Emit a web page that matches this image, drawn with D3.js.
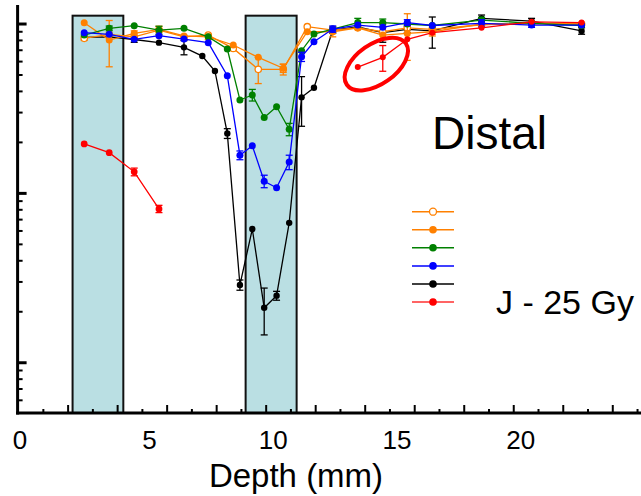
<!DOCTYPE html>
<html>
<head>
<meta charset="utf-8">
<script src="https://cdn.jsdelivr.net/npm/d3@7"></script>
<style>
  body { margin: 0; background: #fff; }
  svg { display: block; font-family: "Liberation Sans", Arial, sans-serif; }
</style>
</head>
<body>
<div id="chart"></div>
<script>
let width = 641;
let height = 496;

// depths (mm)
let depthA = [2.65, 3.66, 4.67, 5.67, 6.68, 7.66, 8.67, 9.68, 10.69, 11.66, 12.69, 13.7, 14.71, 15.7, 16.71, 18.7, 20.72, 22.74];
let depthB = [2.65, 3.66, 4.67, 5.67, 6.68, 7.66, 8.43, 8.94, 9.44, 9.92, 10.42, 10.93, 11.43, 11.93, 12.69, 13.7, 14.71, 15.7, 16.71, 18.7, 20.72, 22.74];
let depthBlack = [2.65, 3.66, 4.67, 5.67, 6.68, 7.42, 7.93, 8.43, 8.94, 9.44, 9.92, 10.42, 10.93, 11.43, 11.93, 12.69, 13.7, 14.71, 15.7, 16.71, 18.7, 20.72, 22.74];
let depthRedA = [2.65, 3.66, 4.67, 5.67];
let depthRedB = [13.7, 14.71, 15.7, 16.71, 18.7, 20.72, 22.74];

// surviving fraction, with error (0 = no bar)
let orangeOpen = [0.823, 0.869, 0.84, 0.92, 0.84, 0.86, 0.718, 0.54, 0.54, 0.964, 0.92, 0.95, 0.9, 0.95, 0.93, 0.99, 1.01, 1.0];
let orangeOpenErr = [0.02, 0, 0, 0, 0, 0, 0, 0.095, 0.04, 0, 0, 0, 0, 0, 0.06, 0, 0, 0];
let orangeFull = [1.018, 0.804, 0.881, 0.93, 0.85, 0.84, 0.752, 0.636, 0.548, 0.9, 0.9, 0.95, 0.86, 0.88, 0.9, 1.0, 1.01, 1.0];
let orangeFullErr = [0, 0.245, 0.03, 0.04, 0, 0.03, 0, 0, 0.03, 0, 0.06, 0, 0, 0.27, 0.05, 0, 0, 0];
let green = [0.86, 0.943, 0.977, 0.92, 0.943, 0.84, 0.712, 0.356, 0.381, 0.281, 0.325, 0.239, 0.696, 0.873, 0.934, 1.02, 1.02, 1.0, 0.98, 1.055, 1.01, 0.98];
let greenErr = [0, 0.03, 0, 0.05, 0, 0, 0, 0, 0.03, 0, 0, 0.02, 0, 0, 0, 0.06, 0.05, 0, 0, 0.04, 0, 0];
let blue = [0.889, 0.869, 0.812, 0.853, 0.815, 0.776, 0.495, 0.168, 0.191, 0.118, 0.108, 0.153, 0.641, 0.786, 0.934, 0.986, 0.956, 1.02, 0.98, 1.01, 0.986, 0.986];
let blueErr = [0, 0, 0, 0, 0, 0, 0, 0.01, 0, 0.01, 0, 0.015, 0.04, 0, 0.04, 0, 0, 0.04, 0, 0.05, 0.03, 0];
let black = [0.835, 0.84, 0.81, 0.776, 0.728, 0.647, 0.528, 0.226, 0.0288, 0.0616, 0.0211, 0.0249, 0.067, 0.369, 0.42, 0.92, 0.96, 0.89, 0.93, 0.91, 1.08, 1.04, 0.91];
let blackErr = [0, 0, 0.03, 0, 0.07, 0, 0, 0.015, 0.002, 0, 0.0065, 0.0015, 0, 0.12, 0, 0.04, 0, 0.11, 0.04, 0.19, 0.05, 0.04, 0.04];
let redA = [0.196, 0.174, 0.134, 0.081];
let redAErr = [0, 0, 0.007, 0.004];
let redB = [0.557, 0.636, 0.812, 0.889, 0.95, 1.03, 1.02];
let redBErr = [0, 0.11, 0, 0, 0, 0, 0];

// irradiated slabs (mm)
let bands = [[2.18, 4.23], [9.17, 11.23]];
let bandTop = 1.12;

let xLabels = [0, 5, 10, 15, 20];

let x = d3.scaleLinear().domain([0, 25.14]).range([18.6, 641]);
let y = d3.scaleLog().domain([0.00505, 1.295]).range([413, 5]);

let svg = d3.select('#chart').append('svg')
    .attr('width', width).attr('height', height);

// shaded bands
svg.append('g').selectAll('rect')
    .data(bands)
    .enter().append('rect')
    .attr('x', d => x(d[0]))
    .attr('y', y(bandTop))
    .attr('width', d => x(d[1]) - x(d[0]))
    .attr('height', y.range()[0] - y(bandTop))
    .attr('fill', '#badfe3')
    .attr('stroke', '#111')
    .attr('stroke-width', 2);

function series(xs, ys, errs, colour, opts) {
    let g = svg.append('g');
    let pts = xs.map((d, i) => ({x: d, y: ys[i], e: errs[i]}));
    g.append('path')
        .datum(pts)
        .attr('d', d3.line().x(d => x(d.x)).y(d => y(d.y)))
        .attr('fill', 'none')
        .attr('stroke', colour)
        .attr('stroke-width', 1.3);
    let eb = g.selectAll('g.err')
        .data(pts.filter(d => d.e > 0))
        .enter().append('g')
        .attr('stroke', colour)
        .attr('stroke-width', 1.3);
    eb.append('line')
        .attr('x1', d => x(d.x)).attr('x2', d => x(d.x))
        .attr('y1', d => y(d.y + d.e)).attr('y2', d => y(Math.max(d.y - d.e, 0.0052)));
    eb.append('line')
        .attr('x1', d => x(d.x) - 3.5).attr('x2', d => x(d.x) + 3.5)
        .attr('y1', d => y(d.y + d.e)).attr('y2', d => y(d.y + d.e));
    eb.append('line')
        .attr('x1', d => x(d.x) - 3.5).attr('x2', d => x(d.x) + 3.5)
        .attr('y1', d => y(Math.max(d.y - d.e, 0.0052))).attr('y2', d => y(Math.max(d.y - d.e, 0.0052)));
    g.selectAll('circle')
        .data(pts)
        .enter().append('circle')
        .attr('cx', d => x(d.x))
        .attr('cy', d => y(d.y))
        .attr('r', opts.r)
        .attr('fill', opts.open ? '#fff' : colour)
        .attr('stroke', colour)
        .attr('stroke-width', opts.open ? 1.3 : 0);
}

series(depthBlack, black, blackErr, '#000', {r: 3.2});
series(depthA, orangeOpen, orangeOpenErr, '#ff8000', {r: 3.2, open: true});
series(depthA, orangeFull, orangeFullErr, '#ff8000', {r: 3.5});
series(depthB, green, greenErr, '#008000', {r: 3.5});
series(depthB, blue, blueErr, '#0000ff', {r: 3.5});
series(depthRedA, redA, redAErr, '#ff0000', {r: 3.4});
series(depthRedB, redB, redBErr, '#ff0000', {r: 3});

// ellipse highlighting the distal red points
let ec = [x(14.45), y(0.58)];
svg.append('ellipse')
    .attr('cx', ec[0]).attr('cy', ec[1])
    .attr('rx', 36).attr('ry', 20)
    .attr('transform', `rotate(-35, ${ec[0]}, ${ec[1]})`)
    .attr('fill', 'none')
    .attr('stroke', '#ff0000')
    .attr('stroke-width', 4);

// axes
let axes = svg.append('g').attr('stroke', '#000');
axes.append('line')
    .attr('x1', x(0) - 1).attr('x2', x(0) - 1)
    .attr('y1', y.range()[1]).attr('y2', y.range()[0] + 1.5)
    .attr('stroke-width', 3);
axes.append('line')
    .attr('x1', x(0) - 2.5).attr('x2', width)
    .attr('y1', y.range()[0]).attr('y2', y.range()[0])
    .attr('stroke-width', 3);

let yTicks = y.ticks();
axes.selectAll('line.yt')
    .data(yTicks)
    .enter().append('line')
    .attr('x1', x(0)).attr('x2', d => x(0) + (Math.abs(Math.log10(d) - Math.round(Math.log10(d))) < 1e-6 ? 8 : 4))
    .attr('y1', d => y(d)).attr('y2', d => y(d))
    .attr('stroke-width', d => Math.abs(Math.log10(d) - Math.round(Math.log10(d))) < 1e-6 ? 3 : 2);

let xTicks = d3.range(1, 26);
axes.selectAll('line.xt')
    .data(xTicks)
    .enter().append('line')
    .attr('x1', d => x(d)).attr('x2', d => x(d))
    .attr('y1', y.range()[0]).attr('y2', d => y.range()[0] - (d % 2 === 0 ? 8 : 4))
    .attr('stroke-width', 2);

svg.append('g').selectAll('text')
    .data(xLabels)
    .enter().append('text')
    .attr('x', d => x(d) + (d === 0 ? 1.5 : 7))
    .attr('y', 449)
    .attr('text-anchor', 'middle')
    .attr('font-size', 26)
    .text(d => d);

svg.append('text')
    .attr('x', 296).attr('y', 487)
    .attr('text-anchor', 'middle')
    .attr('font-size', 33)
    .text('Depth (mm)');

svg.append('text')
    .attr('x', 432).attr('y', 149)
    .attr('font-size', 46)
    .text('Distal');

// legend
let legendItems = [
    {colour: '#ff8000', open: true},
    {colour: '#ff8000'},
    {colour: '#008000'},
    {colour: '#0000ff'},
    {colour: '#000'},
    {colour: '#ff3030'},
];
let leg = svg.append('g').attr('transform', 'translate(412, 211.7)');
legendItems.forEach((d, i) => {
    let row = leg.append('g').attr('transform', `translate(0, ${i * 18.06})`);
    row.append('line').attr('x1', 0).attr('x2', 42)
        .attr('stroke', d.colour).attr('stroke-width', 1.5);
    row.append('circle').attr('cx', 21).attr('r', d.open ? 3.5 : 3.8)
        .attr('fill', d.open ? '#fff' : (i === 5 ? '#ff0000' : d.colour))
        .attr('stroke', d.open ? d.colour : 'none')
        .attr('stroke-width', 1.3);
});

svg.append('text')
    .attr('x', 496).attr('y', 314)
    .attr('font-size', 34)
    .text('J - 25 Gy');
</script>
</body>
</html>
